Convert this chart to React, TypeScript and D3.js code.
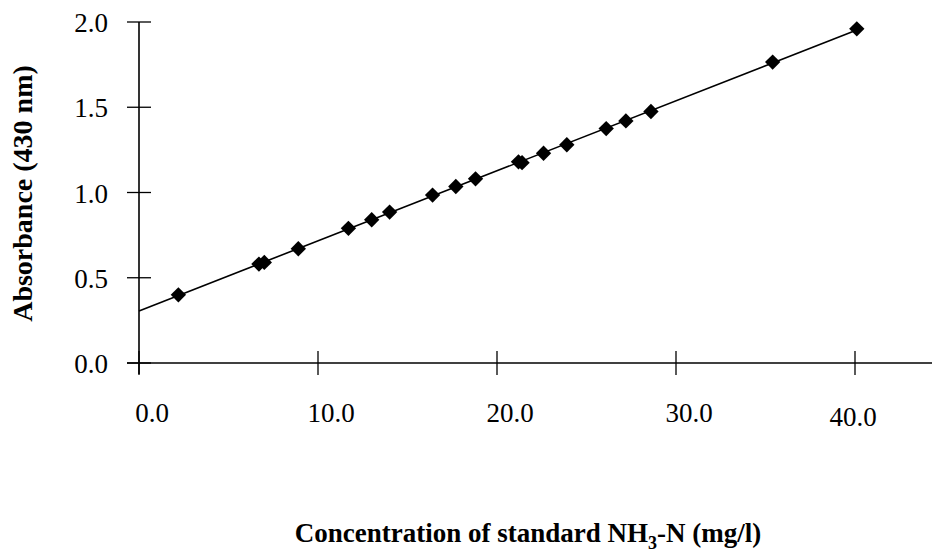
import React from 'react';
import * as d3 from 'd3';

// concentration of NH3-N standards (mg/l) and their absorbance at 430 nm
const concentration = [2.2, 6.7, 7.0, 8.9, 11.7, 13.0, 14.0, 16.4, 17.7, 18.8, 21.2, 21.4, 22.6, 23.9, 26.1, 27.2, 28.6, 35.4, 40.1];
const absorbance = [0.40, 0.58, 0.59, 0.67, 0.79, 0.84, 0.885, 0.985, 1.035, 1.08, 1.18, 1.175, 1.23, 1.28, 1.375, 1.42, 1.475, 1.765, 1.96];

const xTicks = [0, 10, 20, 30, 40];
const yTicks = [0, 0.5, 1.0, 1.5, 2.0];

const width = 932;
const height = 555;

const x = d3.scaleLinear().domain([0, 40]).range([139, 855]);
const y = d3.scaleLinear().domain([0, 2]).range([363, 22]);

// least squares fit of the standards
const fit = (() => {
  const mx = d3.mean(concentration) as number;
  const my = d3.mean(absorbance) as number;
  let sxy = 0, sxx = 0;
  concentration.forEach((c, i) => {
    sxy += (c - mx) * (absorbance[i] - my);
    sxx += (c - mx) * (c - mx);
  });
  const slope = sxy / sxx;
  return { slope, intercept: my - slope * mx };
})();

const diamond = d3.symbol().type((d3 as any).symbolDiamond2 || d3.symbolDiamond).size(150);

const font = '"Liberation Serif", "Times New Roman", serif';

const App = () => {
  const xEnd = d3.max(concentration) as number;
  const line = d3.line<number>()
    .x(d => x(d))
    .y(d => y(fit.intercept + fit.slope * d));

  return (
    <svg width={width} height={height} style={{ position: 'absolute', left: 0, top: 0, background: '#fff' }}>
      {/* y axis */}
      <line x1={x(0)} x2={x(0)} y1={y(2)} y2={y(0) + 11} stroke="#000" strokeWidth={1.6} />
      {yTicks.map(t => (
        <g key={t}>
          <line x1={x(0) - 12} x2={x(0) + 12} y1={y(t)} y2={y(t)} stroke="#000" strokeWidth={1.3} />
          <text x={108} y={y(t) + 10} textAnchor="end" fontFamily={font} fontSize={27}>
            {d3.format('.1f')(t)}
          </text>
        </g>
      ))}

      {/* x axis */}
      <line x1={x(0) - 12} x2={width} y1={y(0)} y2={y(0)} stroke="#000" strokeWidth={1.3} />
      {xTicks.map(t => (
        <g key={t}>
          <line x1={x(t)} x2={x(t)} y1={y(0) - 12} y2={y(0) + 12} stroke="#000" strokeWidth={1.3} />
          <text x={x(t) + (t === 40 ? -2 : 13)} y={t === 40 ? 426 : 422} textAnchor="middle" fontFamily={font} fontSize={27}>
            {d3.format('.1f')(t)}
          </text>
        </g>
      ))}

      {/* regression line */}
      <path d={line([0, xEnd]) || ''} fill="none" stroke="#000" strokeWidth={1.6} />

      {/* standards */}
      {concentration.map((c, i) => (
        <path key={i} d={diamond() || ''} transform={`translate(${x(c)},${y(absorbance[i])})`} fill="#000" />
      ))}

      {/* axis titles */}
      <text
        transform={`translate(32,${(y(0) + y(2)) / 2 + 1}) rotate(-90)`}
        textAnchor="middle"
        fontFamily={font}
        fontWeight="bold"
        fontSize={28}
      >
        Absorbance (430 nm)
      </text>
      <text x={528} y={542} textAnchor="middle" fontFamily={font} fontWeight="bold" fontSize={27}>
        Concentration of standard NH<tspan dy="7" fontSize={18}>3</tspan><tspan dy="-7">-N (mg/l)</tspan>
      </text>
    </svg>
  );
};

export default App;
